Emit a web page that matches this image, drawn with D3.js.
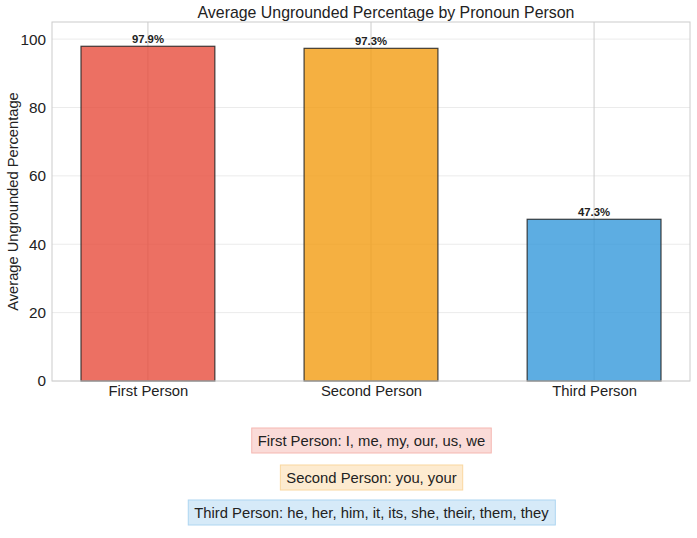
<!DOCTYPE html>
<html><head><meta charset="utf-8">
<script src="https://cdn.jsdelivr.net/npm/d3@7"></script>
<style>body{margin:0;background:#fff;} text{font-family:"Liberation Sans",Arial,sans-serif;}</style>
</head><body>
<svg id="c" width="697" height="538"></svg>
<script>
const categories = ["First Person", "Second Person", "Third Person"];
const values = [97.9, 97.3, 47.3];
const colors = ["#e74c3c", "#f39c12", "#3498db"];
const legendTexts = ["First Person: I, me, my, our, us, we", "Second Person: you, your", "Third Person: he, her, him, it, its, she, their, them, they"];
const legendFills = ["#fadbd8", "#fdebd0", "#d6eaf8"];
const legendStrokes = ["#f5b7b1", "#fad7a0", "#aed6f1"];
const yTicks = [0, 20, 40, 60, 80, 100];

const svg = d3.select("#c");
const L = 52, R = 690, T = 22, B = 381;
const x = d3.scaleLinear().domain([-0.43, 2.43]).range([L, R]);
const y = d3.scaleLinear().domain([0, 105]).range([B, T]);
const bw = 0.6;

// gridlines
svg.append("g").selectAll("line").data(yTicks).join("line")
  .attr("x1", L).attr("x2", R).attr("y1", d => y(d)).attr("y2", d => y(d))
  .attr("stroke", "#ebebeb").attr("stroke-width", 1);
svg.append("g").selectAll("line").data(categories).join("line")
  .attr("x1", (d, i) => x(i)).attr("x2", (d, i) => x(i)).attr("y1", T).attr("y2", B)
  .attr("stroke", "#cccccc").attr("stroke-width", 1);

// bars
svg.append("g").selectAll("rect").data(values).join("rect")
  .attr("x", (d, i) => x(i - bw / 2)).attr("width", (d, i) => x(i + bw / 2) - x(i - bw / 2))
  .attr("y", d => y(d)).attr("height", d => B - y(d))
  .attr("fill", (d, i) => colors[i]).attr("fill-opacity", 0.8)
  .attr("stroke", "#222").attr("stroke-opacity", 0.85).attr("stroke-width", 1.2);

// value labels
svg.append("g").selectAll("text").data(values).join("text")
  .attr("x", (d, i) => x(i)).attr("y", d => y(d) - 3)
  .attr("text-anchor", "middle").attr("font-size", 11.3).attr("font-weight", "bold").attr("fill", "#222")
  .text(d => d.toFixed(1) + "%");

// frame
svg.append("rect").attr("x", L).attr("y", T).attr("width", R - L).attr("height", B - T)
  .attr("fill", "none").attr("stroke", "#cccccc").attr("stroke-width", 1);

// axes
const yAxis = svg.append("g").attr("transform", `translate(${L},0)`)
  .call(d3.axisLeft(y).tickValues(yTicks).tickSize(0).tickPadding(6));
yAxis.select(".domain").remove();
yAxis.selectAll("text").attr("font-size", 15.3).attr("fill", "#222").attr("font-family", "Liberation Sans, Arial, sans-serif");

const xAxis = svg.append("g").attr("transform", `translate(0,${B})`)
  .call(d3.axisBottom(d3.scalePoint().domain(categories).range([x(0), x(2)])).tickSize(0).tickPadding(4));
xAxis.select(".domain").remove();
xAxis.selectAll("text").attr("font-size", 14.8).attr("fill", "#222").attr("font-family", "Liberation Sans, Arial, sans-serif");

// title
svg.append("text").attr("x", (L + R) / 2 + 15).attr("y", 18).attr("text-anchor", "middle")
  .attr("font-size", 15.9).attr("fill", "#222").text("Average Ungrounded Percentage by Pronoun Person");
// y label
svg.append("text").attr("transform", `translate(18,${(T + B) / 2}) rotate(-90)`)
  .attr("text-anchor", "middle").attr("font-size", 14.7).attr("fill", "#222").text("Average Ungrounded Percentage");

// legend boxes
const lg = svg.append("g");
const ly = [440.5, 477.5, 512.5];
legendTexts.forEach((t, i) => {
  const g = lg.append("g");
  const tx = g.append("text").attr("x", 371.5).attr("y", ly[i] + 5.5).attr("text-anchor", "middle")
    .attr("font-size", 14.8).attr("fill", "#222").text(t);
  const bb = tx.node().getBBox();
  g.insert("rect", "text").attr("x", bb.x - 6).attr("y", ly[i] - 12.5).attr("width", bb.width + 12).attr("height", 25)
    .attr("fill", legendFills[i]).attr("stroke", legendStrokes[i]).attr("stroke-width", 1);
});
</script>
</body></html>
